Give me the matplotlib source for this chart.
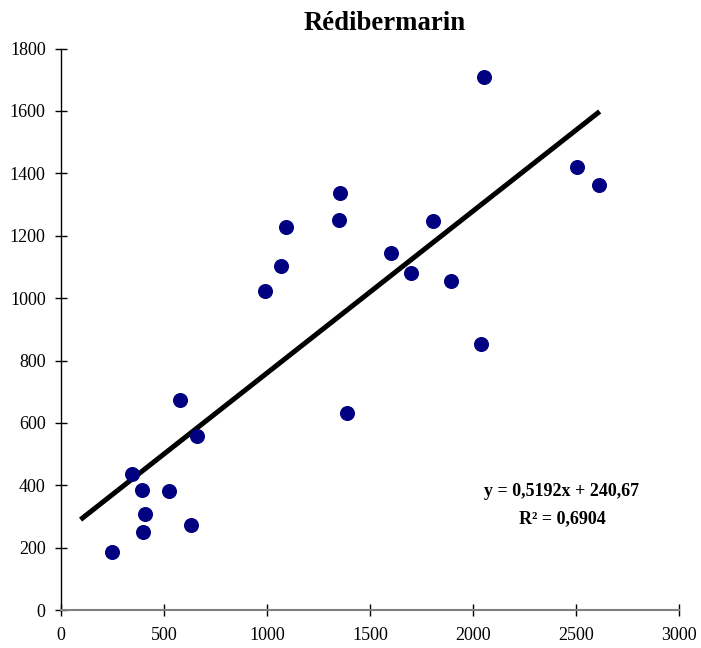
import matplotlib as mpl
import matplotlib.pyplot as plt

mpl.use('Agg')

plt.rcParams['font.family'] = ['Liberation Serif', 'DejaVu Serif']

# Données
x_vals = [246, 344, 393, 409, 396, 523, 580, 633, 660,
          992, 1068, 1094, 1349, 1354, 1388, 1604, 1698, 1807, 1895,
          2039, 2052, 2503, 2611]
y_vals = [186, 437, 385, 309, 251, 381, 672, 272, 557,
          1024, 1104, 1228, 1251, 1336, 633, 1146, 1081, 1248, 1056,
          852, 1710, 1420, 1364]

pente = 0.5192
origine = 240.67
r2 = 0.6904
ligne_x = [95, 2615]

x_ticks = [0, 500, 1000, 1500, 2000, 2500, 3000]
y_ticks = [0, 200, 400, 600, 800, 1000, 1200, 1400, 1600, 1800]

fig = plt.figure(figsize=(7.01, 6.48), dpi=100)
ax = fig.add_axes([0.087, 0.0586, 0.8816, 0.8664])

ax.plot(x_vals, y_vals, 'o', color='#000080', markersize=9.8, zorder=3)
ax.plot(ligne_x, [pente * v + origine for v in ligne_x], color='black', linewidth=3.6,
        solid_capstyle='butt', zorder=2)

ax.set_xlim(0, 3000)
ax.set_ylim(0, 1800)
ax.set_xticks(x_ticks)
ax.set_yticks(y_ticks)

for s in ['top', 'right']:
    ax.spines[s].set_visible(False)
ax.spines['bottom'].set_color('#808080')
ax.spines['bottom'].set_linewidth(1.5)
ax.spines['left'].set_color('black')
ax.spines['left'].set_linewidth(1.0)

ax.tick_params(axis='both', direction='inout', length=8, width=1, color='black', labelsize=13)
ax.tick_params(axis='x', pad=8)
ax.tick_params(axis='y', pad=7)

eq = 'y = {:.4f}x + {:.2f}'.format(pente, origine).replace('.', ',')
ax.text(2432, 379, eq, ha='center', va='center', fontsize=13, fontweight='bold')
ax.text(2432, 292, 'R² = ' + '{:.4f}'.format(r2).replace('.', ','), ha='center', va='center',
        fontsize=13, fontweight='bold')

fig.text(385 / 701, 1 - 30 / 648, 'Rédibermarin', ha='center', va='baseline',
         fontsize=19.3, fontweight='bold')

plt.savefig('out.png', dpi=100)
